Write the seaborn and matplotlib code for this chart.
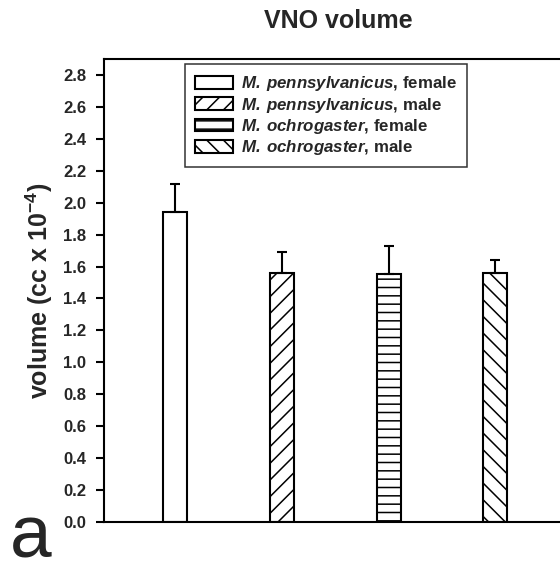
import numpy as np
import pandas as pd
import seaborn as sns
import matplotlib
matplotlib.use("Agg")
import matplotlib.pyplot as plt

# data
groups = ["pen_f", "pen_m", "och_f", "och_m"]
species = ["M. pennsylvanicus", "M. pennsylvanicus", "M. ochrogaster", "M. ochrogaster"]
sexes = ["female", "male", "female", "male"]
means = [1.94, 1.56, 1.555, 1.56]
sems = [0.18, 0.13, 0.175, 0.08]
yticks = [0.0, 0.2, 0.4, 0.6, 0.8, 1.0, 1.2, 1.4, 1.6, 1.8, 2.0, 2.2, 2.4, 2.6, 2.8]

hatches = ["", "//", "--", "\\\\"]

sns.set_theme(style="ticks")
plt.rcParams["font.family"] = ["Liberation Sans", "DejaVu Sans"]
plt.rcParams["font.weight"] = "bold"
plt.rcParams["mathtext.fontset"] = "custom"
plt.rcParams["mathtext.rm"] = "Liberation Sans:bold"
plt.rcParams["mathtext.bf"] = "Liberation Sans:bold"
plt.rcParams["mathtext.bfit"] = "Liberation Sans:bold:italic"
plt.rcParams["hatch.linewidth"] = 1.1
plt.rcParams["hatch.color"] = "black"

df = pd.DataFrame({"group": groups, "mean": means, "sem": sems})

fig = plt.figure(figsize=(5.6, 5.73), dpi=100)
ax = fig.add_axes([104 / 560, 51 / 573, 466 / 560, 463 / 573])

sns.barplot(data=df, x="group", y="mean", color="white", saturation=1,
            width=0.225, edgecolor="black", linewidth=1.5, errorbar=None, ax=ax)

for bar, h in zip(ax.patches, hatches):
    bar.set_hatch(h)

# upper-only error bars
ax.errorbar(np.arange(len(groups)), df["mean"], yerr=[np.zeros(len(groups)), df["sem"]],
            fmt="none", ecolor="black", elinewidth=1.5, capsize=3.6, capthick=1.5, zorder=1)

ax.set_xlim(-0.67, 3.7)
ax.set_ylim(0, 2.9)
ax.set_yticks(yticks)
ax.set_yticklabels([f"{t:.1f}" for t in yticks], fontsize=12, fontweight="bold")
ax.set_xticks([])
ax.set_xlabel("")
ax.set_ylabel(r"volume (cc x 10$^{\mathbf{-4}}$)", fontsize=18, fontweight="bold", labelpad=6)
ax.tick_params(axis="y", direction="out", length=5.8, width=1.5, pad=7, color="black")
for side in ["left", "bottom", "top"]:
    ax.spines[side].set_linewidth(1.5)
    ax.spines[side].set_color("black")
ax.spines["right"].set_visible(False)

labels = [r"$\mathbfit{" + s.replace(" ", r"\,") + "}$, " + x for s, x in zip(species, sexes)]
leg = ax.legend(handles=ax.patches[:4], labels=labels, loc="upper left",
                bbox_to_anchor=(185 / 560, 1 - 64 / 573), bbox_transform=fig.transFigure,
                borderaxespad=0, frameon=True, fancybox=False, fontsize=12.2,
                handlelength=2.25, handleheight=0.77, handletextpad=0.47,
                borderpad=0.6, labelspacing=0.14)
leg.get_frame().set_edgecolor("black")
leg.get_frame().set_linewidth(1.1)

fig.text(338 / 560, 1 - 21 / 573, "VNO volume", ha="center", va="center",
         fontsize=18, fontweight="bold")
# panel letter; baseline kept high enough that its box stays inside the figure
fig.text(10 / 560, 16 / 573, "a", ha="left", va="baseline", fontsize=54, fontweight="normal")

fig.savefig("out.png", dpi=100, facecolor="white")
